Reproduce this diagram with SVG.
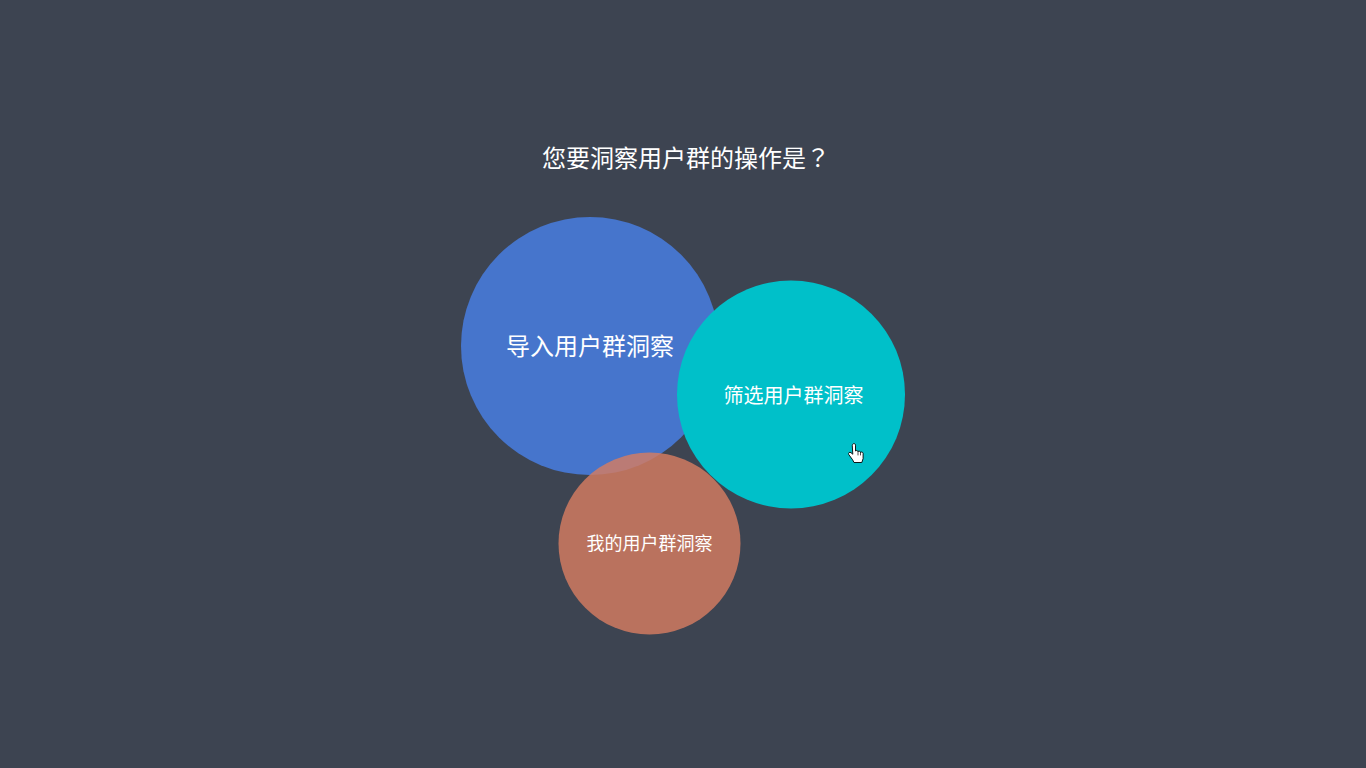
<svg xmlns="http://www.w3.org/2000/svg" width="1366" height="768" viewBox="0 0 1366 768">
<style>
text{font-family:"Noto Sans CJK SC","Noto Sans",sans-serif;fill:#fff;text-anchor:middle;dominant-baseline:central}
</style>
<rect width="1366" height="768" fill="#3d4451"/>
<text id="title" x="686" y="156" font-size="24">您要洞察用户群的操作是<tspan font-family="Noto Sans CJK TC">？</tspan></text>
<g id="node-import"><circle cx="590" cy="346" r="129" fill="#4675cc"/><text x="590" y="344.500" font-size="24">导入用户群洞察</text></g>
<g id="node-filter"><circle cx="791" cy="394.500" r="114" fill="#00c0c9"/><text x="793.500" y="394.500" font-size="20">筛选用户群洞察</text></g>
<g id="node-mine"><circle cx="649.500" cy="543.500" r="91" fill="#d67c61" fill-opacity=".82"/><text x="649.500" y="542" font-size="18">我的用户群洞察</text></g>
<g id="connectors"/>
<g id="cursor" fill="none" stroke="#000" stroke-linejoin="round" stroke-linecap="round"><path d="M852.300 445.200c0-2.200 3.200-2.200 3.200 0v5.800c.8-.9 2.300-.5 2.500.6.800-.8 2.300-.4 2.500.7.900-.6 2.500-.2 2.600 1.100v5.200l-1.300 3.900h-7.800l-1.400-2.700-3.800-5.200c-1-1.500.8-3 2.200-1.900l1.500 1.300z" fill="#fff" stroke-width=".9"/><path d="M858 451.600v3.400M860.500 452.300v2.700" stroke-width=".7"/></g>
</svg>
